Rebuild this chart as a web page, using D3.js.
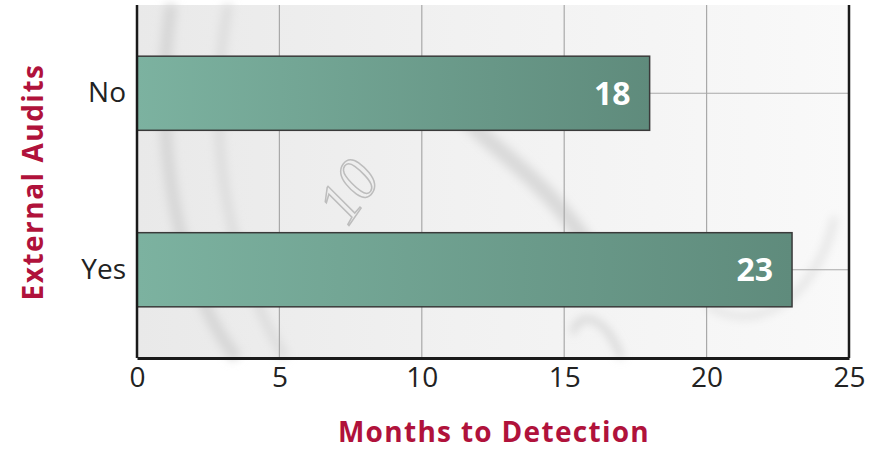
<!DOCTYPE html>
<html><head><meta charset="utf-8">
<script src="https://cdn.jsdelivr.net/npm/d3@7"></script>
<style>body{margin:0;background:#fff;}svg{display:block;}</style>
</head><body>
<script>
const categories = ["No", "Yes"];
const values = [18, 23];
const xTicks = [0, 5, 10, 15, 20, 25];
const xTitle = "Months to Detection";
const yTitle = "External Audits";

const W = 884, H = 451;
const m = {left: 137, right: 35, top: 5, bottom: 93};
const iw = W - m.left - m.right, ih = H - m.top - m.bottom;
const FONT = "'Open Sans', sans-serif";

const svg = d3.select("body").append("svg").attr("width", W).attr("height", H);
const defs = svg.append("defs");
const bg = defs.append("linearGradient").attr("id","bg").attr("x1","0").attr("x2","1").attr("y1","0").attr("y2","0");
bg.append("stop").attr("offset","0").attr("stop-color","#e9e9e9");
bg.append("stop").attr("offset","0.45").attr("stop-color","#f1f1f1");
bg.append("stop").attr("offset","1").attr("stop-color","#f9f9f9");
const bar = defs.append("linearGradient").attr("id","bar").attr("x1","0").attr("x2","1");
bar.append("stop").attr("offset","0").attr("stop-color","#7cb2a0");
bar.append("stop").attr("offset","1").attr("stop-color","#5f8b7c");
defs.append("filter").attr("id","blur").append("feGaussianBlur").attr("stdDeviation", 5);

const x = d3.scaleLinear().domain([0, 25]).range([0, iw]);
const y = d3.scaleBand().domain(categories).range([0, ih]).paddingInner(0.58).paddingOuter(0.29);

const g = svg.append("g").attr("transform", `translate(${m.left},${m.top})`);
g.append("rect").attr("width", iw).attr("height", ih).attr("fill", "url(#bg)");
// soft photo-like strokes
const deco = g.append("g").attr("filter","url(#blur)").attr("fill","none");
deco.append("path").attr("d", `M${x(1.2)},0 C${x(0.5)},${ih*0.4} ${x(1.5)},${ih*0.8} ${x(3.5)},${ih}`).attr("stroke","#d6d6d6").attr("stroke-width",12);
deco.append("path").attr("d", `M${x(3.2)},0 C${x(2.4)},${ih*0.35} ${x(3)},${ih*0.7} ${x(5.2)},${ih}`).attr("stroke","#dcdcdc").attr("stroke-width",9);
deco.append("path").attr("d", `M${x(10.5)},${ih*0.22} C${x(12)},${ih*0.4} ${x(14)},${ih*0.45} ${x(16)},${ih*0.7}`).attr("stroke","#d9d9d9").attr("stroke-width",16);
deco.append("path").attr("d", `M${x(20)},${ih*0.85} C${x(22)},${ih*0.95} ${x(24)},${ih*0.8} ${x(24.5)},${ih*0.6}`).attr("stroke","#e0e0e0").attr("stroke-width",6);
g.append("text").attr("transform", `translate(${x(8)},${ih*0.56}) rotate(-55)`).attr("text-anchor","middle")
  .attr("font-family","Liberation Serif, serif").attr("font-style","italic").attr("font-size",60).attr("fill","none")
  .attr("stroke","#bdbdbd").attr("stroke-width",1.5).text("10");
deco.append("path").attr("d", `M${x(15.3)},${ih*0.93} C${x(15.5)},${ih*0.86} ${x(16.5)},${ih*0.88} ${x(17)},${ih}`).attr("stroke","#c4c4c4").attr("stroke-width",4);

// grid
g.append("g").selectAll("line").data(xTicks.slice(1, -1)).join("line")
  .attr("x1", d => x(d)).attr("x2", d => x(d)).attr("y1", 0).attr("y2", ih)
  .attr("stroke", "#a9a9a9").attr("stroke-width", 1.2);
g.append("g").selectAll("line").data(categories).join("line")
  .attr("x1", 0).attr("x2", iw).attr("y1", d => y(d) + y.bandwidth()/2).attr("y2", d => y(d) + y.bandwidth()/2)
  .attr("stroke", "#a9a9a9").attr("stroke-width", 1.2);

// bars
g.append("g").selectAll("rect").data(values).join("rect")
  .attr("x", x(0)).attr("y", (d, i) => y(categories[i]))
  .attr("width", d => x(d)).attr("height", y.bandwidth())
  .attr("fill", "url(#bar)").attr("stroke", "#3a3a3a").attr("stroke-width", 1.5);
g.append("g").selectAll("text").data(values).join("text")
  .attr("x", d => x(d) - 19).attr("y", (d, i) => y(categories[i]) + y.bandwidth()/2)
  .attr("dy", "0.36em").attr("text-anchor", "end")
  .attr("font-family", FONT).attr("font-weight", "bold").attr("font-size", 32).attr("fill", "#fff")
  .text(d => d);

// frame
g.append("line").attr("x1", 0).attr("x2", 0).attr("y1", 0).attr("y2", ih).attr("stroke", "#1a1a1a").attr("stroke-width", 2.5);
g.append("line").attr("x1", iw).attr("x2", iw).attr("y1", 0).attr("y2", ih).attr("stroke", "#1a1a1a").attr("stroke-width", 2.5);

// axes
const xa = g.append("g").attr("transform", `translate(0,${ih})`)
  .call(d3.axisBottom(x).tickValues(xTicks).tickSize(0).tickPadding(9));
xa.select(".domain").attr("stroke", "#1a1a1a").attr("stroke-width", 3);
xa.selectAll("text").attr("font-family", FONT).attr("font-size", 28).attr("fill", "#222");

const ya = g.append("g").call(d3.axisLeft(y).tickSize(0).tickPadding(11));
ya.select(".domain").remove();
ya.selectAll("text").attr("font-family", FONT).attr("font-size", 28).attr("fill", "#222");

svg.append("text").attr("x", 494).attr("y", 442).attr("text-anchor", "middle")
  .attr("font-family", FONT).attr("font-weight", "bold").attr("font-size", 28).attr("letter-spacing", 1.3)
  .attr("fill", "#b0123b").text(xTitle);
svg.append("text").attr("transform", `translate(43,182) rotate(-90)`).attr("text-anchor", "middle")
  .attr("font-family", FONT).attr("font-weight", "bold").attr("font-size", 28).attr("letter-spacing", 1.5)
  .attr("fill", "#b0123b").text(yTitle);
</script>
</body></html>
